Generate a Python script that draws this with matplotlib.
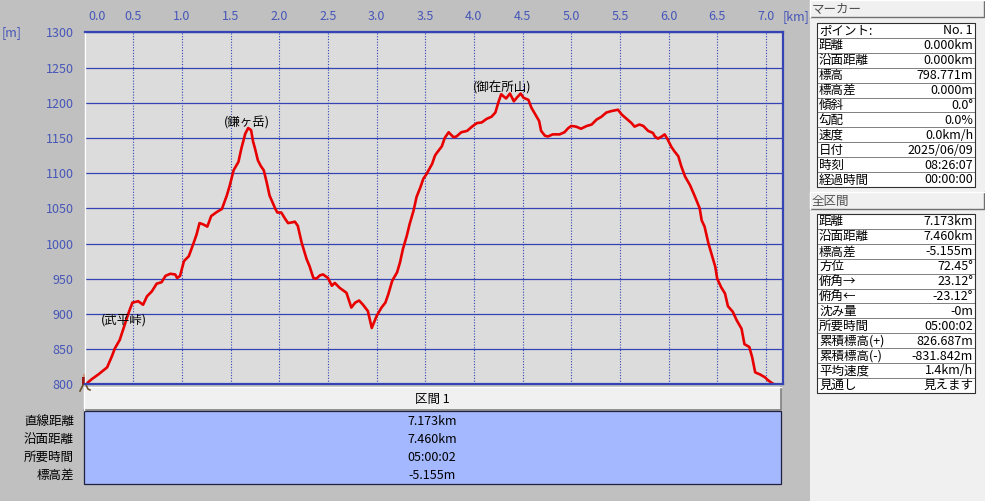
import matplotlib
matplotlib.use("Agg")
import matplotlib.pyplot as plt
from matplotlib.patches import Rectangle
from matplotlib.transforms import ScaledTranslation

plt.rcParams['font.family'] = ['Noto Sans CJK JP', 'DejaVu Sans']

# elevation profile
dist_km = [0.000, 0.07, 0.14, 0.23, 0.28, 0.31, 0.36, 0.40, 0.45, 0.49, 0.55, 0.60,
           0.64, 0.69, 0.74, 0.79, 0.83, 0.88, 0.93, 0.95, 0.98, 1.02, 1.07, 1.12,
           1.15, 1.18, 1.22, 1.26, 1.30, 1.36, 1.41, 1.46, 1.49, 1.53, 1.58, 1.61,
           1.65, 1.68, 1.71, 1.73, 1.75, 1.78, 1.81, 1.84, 1.87, 1.90, 1.96, 1.98,
           2.02, 2.06, 2.09, 2.13, 2.16, 2.19, 2.23, 2.28, 2.31, 2.35, 2.38, 2.42,
           2.45, 2.50, 2.54, 2.57, 2.62, 2.69, 2.74, 2.78, 2.82, 2.86, 2.91, 2.95,
           3.00, 3.05, 3.09, 3.12, 3.16, 3.21, 3.24, 3.27, 3.31, 3.34, 3.38, 3.41,
           3.45, 3.48, 3.51, 3.57, 3.60, 3.62, 3.67, 3.70, 3.74, 3.79, 3.82, 3.87,
           3.93, 3.98, 4.03, 4.08, 4.13, 4.18, 4.22, 4.25, 4.28, 4.33, 4.37, 4.41,
           4.44, 4.48, 4.51, 4.56, 4.59, 4.64, 4.67, 4.69, 4.73, 4.76, 4.81, 4.88,
           4.93, 4.97, 5.00, 5.05, 5.10, 5.16, 5.21, 5.26, 5.31, 5.36, 5.41, 5.48,
           5.52, 5.57, 5.62, 5.65, 5.70, 5.74, 5.79, 5.84, 5.86, 5.89, 5.93, 5.96,
           5.99, 6.03, 6.06, 6.10, 6.13, 6.17, 6.22, 6.27, 6.32, 6.34, 6.37, 6.41,
           6.44, 6.48, 6.50, 6.54, 6.58, 6.61, 6.66, 6.70, 6.75, 6.78, 6.83, 6.86,
           6.89, 6.94, 6.99, 7.02, 7.07, 7.11, 7.173]
elev_m = [798.8, 807, 814, 824, 840, 851, 863, 880, 901, 916, 918, 913,
          925, 932, 943, 945, 954, 957, 956, 951, 954, 975, 982, 1001,
          1013, 1029, 1027, 1024, 1039, 1045, 1049, 1068, 1082, 1104, 1116, 1135,
          1156, 1164, 1161, 1145, 1135, 1118, 1110, 1104, 1087, 1068, 1049, 1044,
          1044, 1035, 1029, 1030, 1031, 1025, 1001, 978, 968, 951, 950, 955,
          956, 951, 940, 944, 937, 930, 909, 916, 919, 913, 904, 880,
          897, 909, 916, 928, 947, 959, 973, 992, 1011, 1028, 1047, 1066,
          1080, 1092, 1098, 1113, 1125, 1129, 1138, 1150, 1158, 1151, 1152, 1158,
          1160, 1166, 1171, 1172, 1177, 1180, 1186, 1200, 1212, 1206, 1213, 1202,
          1207, 1213, 1207, 1204, 1193, 1181, 1174, 1160, 1153, 1152, 1155, 1155,
          1158, 1164, 1167, 1166, 1163, 1167, 1169, 1176, 1180, 1186, 1188, 1190,
          1183, 1177, 1171, 1166, 1169, 1167, 1160, 1157, 1152, 1149, 1152, 1155,
          1148, 1137, 1131, 1124, 1110, 1095, 1083, 1067, 1050, 1033, 1024, 1000,
          986, 967, 950, 938, 929, 911, 903, 891, 879, 857, 853, 838,
          817, 814, 810, 806, 801, 799, 793.6]

x_ticks = [0.0, 0.5, 1.0, 1.5, 2.0, 2.5, 3.0, 3.5, 4.0, 4.5, 5.0, 5.5, 6.0, 6.5, 7.0]
y_ticks = [800, 850, 900, 950, 1000, 1050, 1100, 1150, 1200, 1250, 1300]

peak_names = ["(武平峠)", "(鎌ヶ岳)", "(御在所山)"]
peak_x = [0.40, 1.67, 4.29]
peak_y = [891, 1171, 1221]

section_title = "区間 1"
section_labels = ["直線距離", "沿面距離", "所要時間", "標高差"]
section_values = ["7.173km", "7.460km", "05:00:02", "-5.155m"]

marker_labels = ["ポイント:", "距離", "沿面距離", "標高", "標高差", "傾斜", "勾配",
                 "速度", "日付", "時刻", "経過時間"]
marker_values = ["No. 1", "0.000km", "0.000km", "798.771m", "0.000m", "0.0°", "0.0%",
                 "0.0km/h", "2025/06/09", "08:26:07", "00:00:00"]

total_labels = ["距離", "沿面距離", "標高差", "方位", "俯角→", "俯角←", "沈み量",
                "所要時間", "累積標高(+)", "累積標高(-)", "平均速度", "見通し"]
total_values = ["7.173km", "7.460km", "-5.155m", "72.45°", "23.12°", "-23.12°", "-0m",
                "05:00:02", "826.687m", "-831.842m", "1.4km/h", "見えます"]

W, H = 985, 501
blue = "#3444b4"
tick_blue = "#4656b8"

fig = plt.figure(figsize=(W / 100, H / 100), dpi=100)
fig.patch.set_facecolor("#c0c0c0")

# overlay in pixel coordinates for panels and tables
ov = fig.add_axes([0, 0, 1, 1])
ov.set_xlim(0, W)
ov.set_ylim(H, 0)
ov.axis("off")
ov.patch.set_alpha(0)

# right info panel
ov.add_patch(Rectangle((810, 0), 175, H, fc="#f0f0f0", ec="none"))


def header(y, text):
    ov.add_patch(Rectangle((810, y), 174, 17, fc="#f0f0f0", ec="none"))
    ov.plot([810, 984, 984], [y + 17, y + 17, y], color="#707070", lw=1)
    ov.plot([810, 810, 984], [y + 17, y, y], color="white", lw=1)
    ov.text(812, y + 9, text, fontsize=9, color="#505050", va="center", ha="left")


def info_table(top, labels, values, rh=14.9):
    for i, (lab, val) in enumerate(zip(labels, values)):
        y = top + i * rh
        ov.add_patch(Rectangle((817, y), 158, rh, fc="white", ec="#808080", lw=0.7))
        ov.text(819, y + rh / 2 + 0.5, lab, fontsize=9, color="black", va="center", ha="left")
        ov.text(973, y + rh / 2 + 0.5, val, fontsize=9, color="black", va="center", ha="right")
    ov.add_patch(Rectangle((817, top), 158, rh * len(labels), fc="none", ec="#303030", lw=0.8))


header(0, "マーカー")
info_table(23, marker_labels, marker_values)
header(192, "全区間")
info_table(214, total_labels, total_values)

# section table below the chart
ov.add_patch(Rectangle((84, 387), 697, 23, fc="#f0f0f0", ec="none"))
ov.plot([84, 781, 781], [410, 410, 387], color="#808080", lw=1.2)
ov.plot([84, 84, 781], [410, 387, 387], color="white", lw=1)
ov.text(432, 399, section_title, fontsize=9, ha="center", va="center", color="black")
ov.add_patch(Rectangle((84, 411), 697, 73, fc="#a4b8ff", ec="#202040", lw=0.9))
for i, (lab, val) in enumerate(zip(section_labels, section_values)):
    y = 421.5 + i * 17.9
    ov.text(74, y, lab, fontsize=9, ha="right", va="center", color="black")
    ov.text(432, y, val, fontsize=9, ha="center", va="center", color="black")

# small walker icon at the start point
ov.add_patch(Rectangle((81.5, 377), 6, 8, fc="#9a1818", ec="none"))
ov.add_patch(Rectangle((82.5, 373.5), 4, 3.5, fc="#c89070", ec="none"))
ov.plot([83, 81, 80], [385, 389, 391], color="#6a5030", lw=1.2)
ov.plot([86, 88, 90], [385, 389, 390], color="#6a5030", lw=1.2)

# main profile axes
ax = fig.add_axes([84.7 / W, 1 - 384.3 / H, 698 / W, 352 / H])
ax.set_facecolor("#dcdcdc")
ax.set_xlim(0, 7.173)
ax.set_ylim(800, 1300)

ax.set_xticks(x_ticks)
ax.set_xticklabels([f"{v:.1f}" for v in x_ticks])
ax.set_yticks(y_ticks)
ax.xaxis.tick_top()
ax.tick_params(axis="x", length=0, pad=7, labelsize=9, labelcolor=tick_blue)
ax.tick_params(axis="y", length=0, pad=8, labelsize=9, labelcolor=tick_blue)
first = ax.get_xticklabels()[0]
first.set_horizontalalignment("left")
first.set_transform(first.get_transform() + ScaledTranslation(3 / 72, 0, fig.dpi_scale_trans))

ax.grid(axis="y", color=blue, lw=0.9, ls="-")
ax.grid(axis="x", color=blue, lw=0.8, ls=(0, (1, 1.5)))
ax.set_axisbelow(True)

for side in ["top", "right", "bottom"]:
    ax.spines[side].set_color(blue)
    ax.spines[side].set_linewidth(1.6)
ax.spines["left"].set_color("white")
ax.spines["left"].set_linewidth(1)

ax.plot(dist_km, elev_m, color="#e80000", lw=1.9, solid_joinstyle="round")

for name, px, py in zip(peak_names, peak_x, peak_y):
    ax.text(px, py, name, fontsize=9, ha="center", va="center", color="black")

ax.text(1.0, 1.045, "[km]", transform=ax.transAxes, fontsize=9, color=tick_blue,
        ha="left", va="center")
ax.text(-0.1185, 1.0, "[m]", transform=ax.transAxes, fontsize=9, color=tick_blue,
        ha="left", va="center")

fig.savefig("out.png", dpi=100, facecolor=fig.get_facecolor())
